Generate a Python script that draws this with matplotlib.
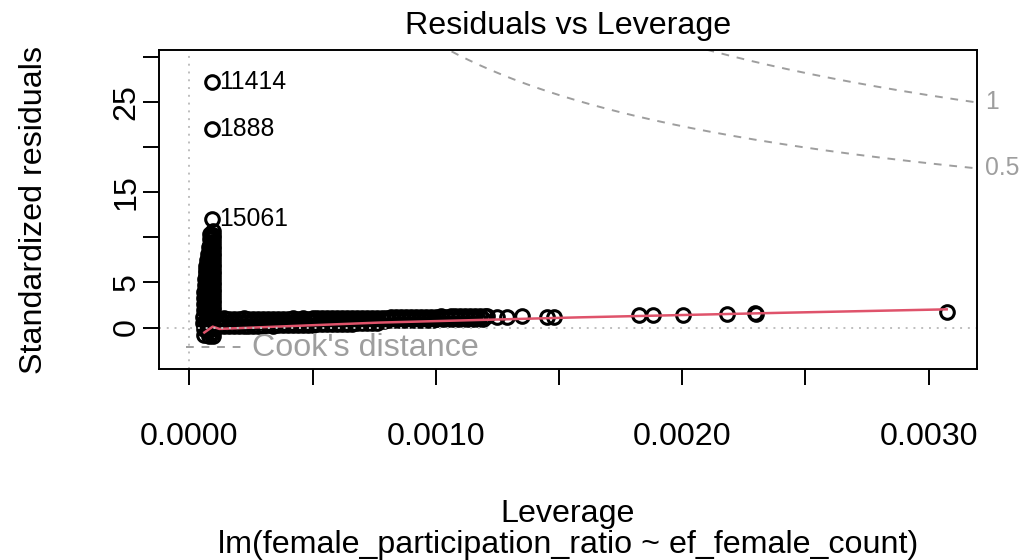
import numpy as np
import matplotlib
matplotlib.use("Agg")
import matplotlib.pyplot as plt

plt.rcParams["font.family"] = ["Liberation Sans", "DejaVu Sans"]

# Data (leverage in units of 1e-6)
# --------------------------------

outlier_lev = [93, 93, 93]
outlier_res = [27.2, 22.0, 12.0]
outlier_ids = ["11414", "1888", "15061"]

# the dense column at minimum leverage
column_lev = [95, 95, 95, 95, 95, 95, 95, 95, 95, 95,
              95, 95, 95, 95, 95, 95, 95, 95, 95, 95,
              95, 95, 95, 95, 95, 95, 95, 95, 95, 95,
              86, 85, 84, 83, 82, 80, 79, 78, 77, 76,
              76, 75, 75, 75, 75, 75, 75, 75, 76, 78,
              81, 77, 73, 69, 66, 64, 62, 61, 60, 59,
              58, 57, 57, 58, 60,
              89, 89, 89, 89, 89, 89, 89, 89, 89, 89,
              89, 89, 89, 89, 89, 89, 89, 89, 89,
              68, 68, 67, 67, 67, 67, 67, 67, 68]
column_res = [10.7, 10.3, 9.9, 9.5, 9.1, 8.7, 8.3, 7.9, 7.5, 7.1,
              6.7, 6.3, 5.9, 5.5, 5.1, 4.7, 4.3, 3.9, 3.5, 3.1,
              2.7, 2.3, 1.9, 1.5, 1.1, 0.7, 0.3, -0.1, -0.5, -0.9,
              10.4, 9.8, 9.2, 8.6, 8.0, 7.4, 6.8, 6.2, 5.6, 5.0,
              4.4, 3.8, 3.2, 2.6, 2.0, 1.4, 0.8, 0.2, -0.4, -0.9,
              8.9, 8.2, 7.5, 6.8, 6.1, 5.4, 4.7, 4.0, 3.3, 2.6,
              1.9, 1.2, 0.5, -0.2, -0.8,
              10.1, 9.5, 8.9, 8.3, 7.7, 7.1, 6.5, 5.9, 5.3, 4.7,
              4.1, 3.5, 2.9, 2.3, 1.7, 1.1, 0.5, -0.1, -0.7,
              6.4, 5.6, 4.8, 4.0, 3.2, 2.4, 1.6, 0.8, -0.1]

# the dense horizontal band
band_lev = [120, 140, 160, 180, 200, 220, 240, 260, 280, 300,
            320, 340, 360, 380, 400, 420, 440, 460, 480, 500,
            520, 540, 560, 580, 600, 620, 640, 660, 680, 700,
            720, 740, 760, 780, 800, 820, 840, 860, 880, 900,
            920, 940, 960, 980, 1000, 1020, 1040, 1060, 1080, 1100,
            1120, 1140, 1160, 1180, 1200]
band_top_res = [0.98, 1.07, 0.95, 0.96, 0.98, 1.08, 0.96, 0.97, 0.95, 0.98,
                0.97, 0.99, 0.96, 1.00, 0.98, 1.01, 0.99, 1.02, 1.00, 1.03,
                1.01, 1.04, 1.02, 1.05, 1.03, 1.06, 1.04, 1.07, 1.05, 1.08,
                1.06, 1.09, 1.07, 1.10, 1.11, 1.14, 1.12, 1.16, 1.14, 1.18,
                1.16, 1.20, 1.18, 1.22, 1.20, 1.24, 1.22, 1.26, 1.24, 1.28,
                1.26, 1.30, 1.28, 1.32, 1.30]
band_mid_lev = [130, 150, 170, 190, 210, 230, 250, 270, 290, 310,
                330, 350, 370, 390, 410, 430, 450, 470, 490, 510,
                530, 550, 570, 590, 610, 630, 650, 670, 690, 710,
                730, 750, 770, 790, 810, 830, 850, 870, 890, 910,
                930, 950, 970, 990, 1010, 1030, 1050, 1070, 1090, 1110,
                1130, 1150, 1170, 1190]
band_mid_res = [0.58, 0.62, 0.57, 0.60, 0.63, 0.59, 0.61, 0.64, 0.60, 0.62,
                0.65, 0.62, 0.64, 0.67, 0.63, 0.66, 0.69, 0.65, 0.68, 0.71,
                0.67, 0.70, 0.73, 0.69, 0.72, 0.75, 0.71, 0.74, 0.77, 0.73,
                0.76, 0.79, 0.75, 0.78, 0.81, 0.80, 0.83, 0.82, 0.85, 0.84,
                0.87, 0.86, 0.89, 0.88, 0.91, 0.90, 0.93, 0.92, 0.95, 0.94,
                0.97, 0.96, 0.99, 0.98]
band_low_res = [0.15, 0.13, 0.17, 0.14, 0.18, 0.16, 0.19, 0.17, 0.21, 0.19,
                0.23, 0.21, 0.25, 0.23, 0.27, 0.26, 0.29, 0.28, 0.32, 0.31,
                0.35, 0.34, 0.38, 0.37, 0.41, 0.40, 0.44, 0.43, 0.47, 0.46,
                0.50, 0.51, 0.54]

# single points further right
sparse_lev = [1208, 1249, 1289, 1350, 1451, 1480,
              1824, 1881, 2002, 2181, 2294, 2300, 3073]
sparse_res = [1.25, 1.22, 1.20, 1.25, 1.22, 1.12,
              1.41, 1.41, 1.41, 1.52, 1.63, 1.55, 1.78]

# lowess smoother
smooth_lev = [61, 95, 122, 770, 1580, 2390, 3073]
smooth_res = [-0.55, 0.10, -0.15, 0.55, 1.13, 1.63, 2.02]

cook_levels = [0.5, 1]
cook_labels = ["0.5", "1"]
n_coef = 2

x_ticks = [0, 0.0005, 0.0010, 0.0015, 0.0020, 0.0025, 0.0030]
x_labels = ["0.0000", "", "0.0010", "", "0.0020", "", "0.0030"]
y_ticks = [0, 5, 10, 15, 20, 25, 30]
y_labels = ["0", "5", "", "15", "", "25", ""]

# Style
# -----
fs = 23.2
fs_id = 17.8
grey = "#9E9E9E"
light = "#BEBEBE"
red = "#DF536B"

point_config = {
    "linestyle": "none",
    "marker": "o",
    "markersize": 9.8,
    "markerfacecolor": "none",
    "markeredgecolor": "black",
    "markeredgewidth": 2.2,
}

if __name__ == "__main__":
    fig = plt.figure(figsize=(10.23, 5.6), dpi=100)
    ax = fig.add_axes([159 / 1023, 1 - 369 / 560,
                       (977 - 159) / 1023, (369 - 50) / 560])

    xlim = (-122.9e-6, 3195.9e-6)
    ax.set_xlim(*xlim)
    ax.set_ylim(-4.6, 30.8)

    # Points
    # ------
    u = 1e-6
    ax.plot(np.array(column_lev) * u, column_res, **point_config)
    ax.plot(np.array(band_lev) * u, band_top_res, **point_config)
    ax.plot(np.array(band_mid_lev) * u, band_mid_res, **point_config)
    ax.plot(np.array(band_lev[:len(band_low_res)]) * u, band_low_res,
            **point_config)
    ax.plot(np.array(sparse_lev) * u, sparse_res, **point_config)
    ax.plot(np.array(outlier_lev) * u, outlier_res, **point_config)

    for lv, rs, name in zip(outlier_lev, outlier_res, outlier_ids):
        ax.annotate(name, (lv * u, rs), xytext=(5, 0),
                    textcoords="offset points", ha="left", va="center",
                    fontsize=fs_id)

    ax.plot(np.array(smooth_lev) * u, smooth_res, color=red, lw=1.8)

    # Reference lines
    # ---------------
    ax.axhline(0, color=light, lw=1.4, ls=(0, (1, 3)))
    ax.axvline(0, color=light, lw=1.4, ls=(0, (1, 3)))

    hh = np.linspace(2e-4, xlim[1], 200)
    for lvl, lab in zip(cook_levels, cook_labels):
        cl = np.sqrt(lvl * n_coef * (1 - hh) / hh)
        ax.plot(hh, cl, color=grey, lw=1.4, ls=(0, (4, 4)))
        ax.plot(hh, -cl, color=grey, lw=1.4, ls=(0, (4, 4)))
        yend = np.sqrt(lvl * n_coef * (1 - xlim[1]) / xlim[1])
        ax.annotate(lab, xy=(1, yend), xycoords=("axes fraction", "data"),
                    xytext=(6, 0), textcoords="offset points",
                    ha="left", va="center", color=grey, fontsize=fs_id,
                    annotation_clip=False)

    # Cook's distance legend
    ax.plot([-13e-6, 215e-6], [-2.17, -2.17], color=grey, lw=1.4,
            ls=(0, (4, 4)))
    ax.text(255e-6, -2.25, "Cook's distance", color=grey, fontsize=fs,
            ha="left", va="center")

    # Axes
    # ----
    for sp in ax.spines.values():
        sp.set_linewidth(1.4)
    ax.set_xticks(x_ticks)
    ax.set_xticklabels(x_labels, fontsize=fs)
    ax.set_yticks(y_ticks)
    ax.set_yticklabels(y_labels, fontsize=fs, rotation=90, va="center")
    ax.tick_params(length=11.5, width=1.4, direction="out")
    ax.tick_params(axis="x", pad=27)
    ax.tick_params(axis="y", pad=1)

    fig.text(568 / 1023, 1 - 26 / 560, "Residuals vs Leverage",
             fontsize=fs, ha="center", va="center")
    fig.text(568 / 1023, 1 - 514 / 560, "Leverage",
             fontsize=fs, ha="center", va="center")
    fig.text(568 / 1023, 1 - 545 / 560,
             "lm(female_participation_ratio ~ ef_female_count)",
             fontsize=fs, ha="center", va="center")
    fig.text(34 / 1023, 1 - 209.5 / 560, "Standardized residuals",
             fontsize=fs, ha="center", va="center", rotation=90)

    fig.savefig("out.png", dpi=100)
